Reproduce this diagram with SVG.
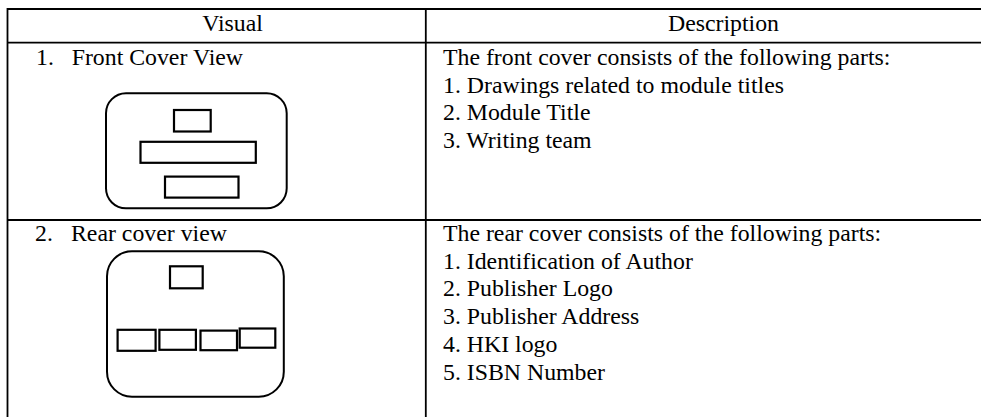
<svg xmlns="http://www.w3.org/2000/svg" width="981" height="417" viewBox="0 0 981 417">
  <style>
    .grid { stroke: #000; stroke-width: 1.8; fill: none; }
    .cover { stroke: #000; stroke-width: 2; fill: #fff; }
    .part { stroke: #000; stroke-width: 2.2; fill: #fff; }
    text { font-family: "Liberation Serif", "Times New Roman", serif; font-size: 23.8px; fill: #000; }
    .mid { text-anchor: middle; }
  </style>
  <rect width="981" height="417" fill="#fff"/>

  <!-- table rules -->
  <g id="table">
    <line class="grid" x1="7.5" y1="9" x2="981" y2="9"/>
    <line class="grid" x1="7.5" y1="42.7" x2="981" y2="42.7"/>
    <line class="grid" x1="7.5" y1="220" x2="981" y2="220"/>
    <line class="grid" x1="7.5" y1="8.1" x2="7.5" y2="417"/>
    <line class="grid" x1="425.8" y1="9" x2="425.8" y2="417"/>
  </g>

  <!-- header row -->
  <g id="header">
    <text class="mid" x="232.5" y="31">Visual</text>
    <text class="mid" x="723.5" y="31">Description</text>
  </g>

  <!-- row 1: front cover -->
  <g id="front-cover">
    <text x="36" y="64.8">1.</text>
    <text x="71.7" y="64.8">Front Cover View</text>
    <rect class="cover" x="106" y="93.3" width="180.7" height="115" rx="20" ry="20"/>
    <rect class="part" x="174" y="110" width="36.7" height="21.5"/>
    <rect class="part" x="140.5" y="141.8" width="115.3" height="21"/>
    <rect class="part" x="165" y="176.6" width="73.5" height="21"/>
  </g>
  <g id="front-cover-text">
    <text x="443" y="64.8">The front cover consists of the following parts:</text>
    <text x="443" y="92.5">1. Drawings related to module titles</text>
    <text x="443" y="120.2">2. Module Title</text>
    <text x="443" y="147.9">3. Writing team</text>
  </g>

  <!-- row 2: rear cover -->
  <g id="rear-cover">
    <text x="35" y="241">2.</text>
    <text x="71" y="241">Rear cover view</text>
    <rect class="cover" x="107" y="251.3" width="176.8" height="145.4" rx="25" ry="25"/>
    <rect class="part" x="170" y="266.3" width="32.7" height="22"/>
    <rect class="part" x="117.6" y="329.8" width="38" height="21"/>
    <rect class="part" x="159.4" y="329.8" width="36.5" height="20"/>
    <rect class="part" x="200.5" y="330.6" width="36.5" height="19.6"/>
    <rect class="part" x="239.7" y="328.5" width="35.6" height="19.2"/>
  </g>
  <g id="rear-cover-text">
    <text x="443" y="241">The rear cover consists of the following parts:</text>
    <text x="443" y="268.7">1. Identification of Author</text>
    <text x="443" y="296.4">2. Publisher Logo</text>
    <text x="443" y="324.1">3. Publisher Address</text>
    <text x="443" y="351.8">4. HKI logo</text>
    <text x="443" y="379.5">5. ISBN Number</text>
  </g>
</svg>
